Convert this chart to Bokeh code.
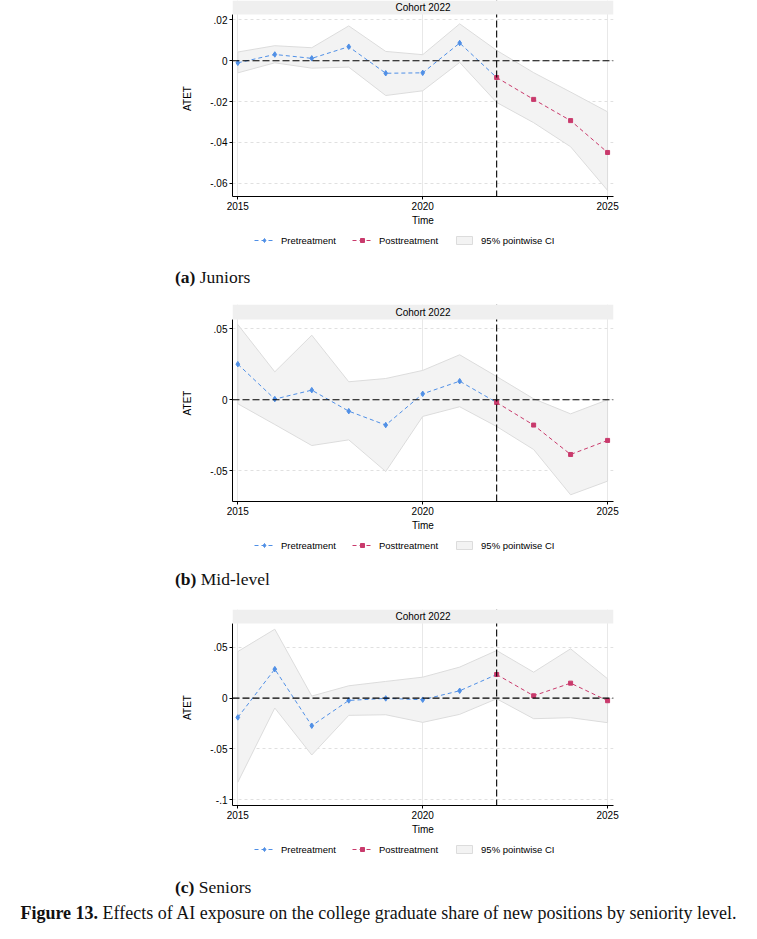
from bokeh.plotting import figure
from bokeh.models import (FixedTicker, CustomJSTickFormatter, Span, BoxAnnotation,
                          Label, Legend, LegendItem, Div, Range1d)
from bokeh.layouts import column
from bokeh.embed import file_html
from bokeh.resources import INLINE

# ---------------- data ----------------
years = [2015, 2016, 2017, 2018, 2019, 2020, 2021, 2022, 2023, 2024, 2025]
treat_year = 2022
cohort_label = "Cohort 2022"
x_ticks = [2015, 2020, 2025]

jun_atet = [-0.0010, 0.0031, 0.0012, 0.0069, -0.0061, -0.0059, 0.0087, -0.0082, -0.0189, -0.0293, -0.0449]
jun_upper = [0.0043, 0.0074, 0.0064, 0.0171, 0.0046, 0.0030, 0.0181, 0.0051, -0.0058, -0.0153, -0.0250]
jun_lower = [-0.0059, -0.0010, -0.0036, -0.0031, -0.0170, -0.0147, -0.0008, -0.0204, -0.0303, -0.0421, -0.0635]
jun_yticks = [-0.06, -0.04, -0.02, 0, 0.02]

mid_atet = [0.0251, 0.0005, 0.0068, -0.0080, -0.0178, 0.0042, 0.0131, -0.0019, -0.0178, -0.0385, -0.0286]
mid_upper = [0.0530, 0.0197, 0.0455, 0.0127, 0.0150, 0.0207, 0.0317, 0.0164, 0.0007, -0.0099, 0.0000]
mid_lower = [-0.0028, -0.0174, -0.0322, -0.0282, -0.0505, -0.0117, -0.0049, -0.0188, -0.0350, -0.0669, -0.0573]
mid_yticks = [-0.05, 0, 0.05]

sen_atet = [-0.0190, 0.0285, -0.0272, -0.0023, -0.0003, -0.0016, 0.0072, 0.0232, 0.0023, 0.0147, -0.0026]
sen_upper = [0.0458, 0.0678, 0.0020, 0.0121, 0.0164, 0.0206, 0.0305, 0.0468, 0.0255, 0.0485, 0.0190]
sen_lower = [-0.0828, -0.0098, -0.0560, -0.0170, -0.0164, -0.0239, -0.0160, -0.0007, -0.0203, -0.0193, -0.0242]
sen_yticks = [-0.1, -0.05, 0, 0.05]

legend_labels = ["Pretreatment", "Posttreatment", "95% pointwise CI"]
captions = [("(a)", "Juniors"), ("(b)", "Mid-level"), ("(c)", "Seniors")]
fig_caption_bold = "Figure 13."
fig_caption = "Effects of AI exposure on the college graduate share of new positions by seniority level."

# ---------------- style ----------------
BLUE = "#4f8fe6"
PINK = "#c93a6c"
BAND_FILL = "#f3f3f3"
BAND_LINE = "#dcdcdc"
SANS = "Liberation Sans"
SERIF = "Liberation Serif"
X_RANGE = (2014.856, 2025.16)
PLOT_PX = 182
AXIS_PX = 34
W = 757
FRAME_LEFT = 232
FRAME_W = 381


def series_band(p, upper, lower):
    return p.patch(years + years[::-1], upper + lower[::-1],
                   fill_color=BAND_FILL, line_color=BAND_LINE, line_width=1)


def series_lines(p, atet):
    i0 = years.index(treat_year)
    l_pre = p.line(years[:i0 + 1], atet[:i0 + 1], line_color=BLUE, line_dash="4 3", line_width=1)
    s_pre = p.scatter(years[:i0], atet[:i0], marker="diamond", size=5.5,
                      fill_color=BLUE, line_color=BLUE)
    l_post = p.line(years[i0:], atet[i0:], line_color=PINK, line_dash="4 3", line_width=1)
    s_post = p.scatter(years[i0:], atet[i0:], marker="square", size=4,
                       fill_color=PINK, line_color=PINK)
    return l_pre, s_pre, l_post, s_post


def make_panel(atet, upper, lower, yticks, ylo, yhi, strip_px):
    strip_data = strip_px * (yhi - ylo) / PLOT_PX
    height = PLOT_PX + strip_px + AXIS_PX
    p = figure(width=W, height=height, output_backend="svg", toolbar_location=None,
               x_range=Range1d(*X_RANGE), y_range=Range1d(ylo, yhi + strip_data),
               min_border_left=FRAME_LEFT, min_border_right=W - FRAME_LEFT - FRAME_W,
               min_border_top=0, min_border_bottom=AXIS_PX)
    p.outline_line_color = None
    p.background_fill_color = "white"
    p.border_fill_color = "white"

    # axes
    p.xaxis.ticker = FixedTicker(ticks=x_ticks)
    p.xaxis.axis_label = "Time"
    p.yaxis.ticker = FixedTicker(ticks=yticks)
    p.yaxis.axis_label = "ATET"
    p.yaxis.formatter = CustomJSTickFormatter(
        code="var s = String(parseFloat(tick.toFixed(4))); return s.replace('0.', '.');")
    p.yaxis.bounds = (ylo, yhi)
    for ax in (p.xaxis[0], p.yaxis[0]):
        ax.axis_line_color = "black"
        ax.axis_line_width = 1
        ax.major_tick_line_color = "black"
        ax.major_tick_out = 3
        ax.major_tick_in = 0
        ax.minor_tick_line_color = None
        ax.major_label_text_font = SANS
        ax.major_label_text_font_size = "10px"
        ax.major_label_text_color = "black"
        ax.axis_label_text_font = SANS
        ax.axis_label_text_font_size = "10px"
        ax.axis_label_text_font_style = "normal"
        ax.axis_label_text_color = "black"
    p.xaxis.major_label_standoff = 2
    p.xaxis.axis_label_standoff = 2
    p.yaxis.major_label_standoff = 2
    p.yaxis.axis_label_standoff = 14

    # grids
    p.xgrid.ticker = FixedTicker(ticks=x_ticks)
    p.xgrid.grid_line_color = "#e8e8e8"
    p.xgrid.grid_line_width = 1
    p.ygrid.ticker = FixedTicker(ticks=yticks)
    p.ygrid.grid_line_color = "#e0e0e0"
    p.ygrid.grid_line_dash = "3 3"

    series_band(p, upper, lower)

    # reference lines
    p.add_layout(Span(location=0, dimension="width", line_color="black",
                      line_dash="7 3", line_width=1.1))
    p.add_layout(Span(location=treat_year, dimension="height", line_color="black",
                      line_dash="7 3", line_width=1.1))

    series_lines(p, atet)

    # strip header
    p.add_layout(BoxAnnotation(bottom=yhi, fill_color="#efefef", fill_alpha=1.0,
                               line_color=None))
    p.add_layout(Label(x=(X_RANGE[0] + X_RANGE[1]) / 2, y=yhi + strip_data / 2,
                       text=cohort_label, text_align="center", text_baseline="middle",
                       text_font=SANS, text_font_size="10px", text_color="black"))
    return p


def make_legend(atet, upper, lower):
    # legend-only strip; its glyphs use the series data, which lie outside this strip's ranges
    lf = figure(width=W, height=16, output_backend="svg", toolbar_location=None,
                x_range=Range1d(0, 1), y_range=Range1d(0, 1),
                x_axis_type=None, y_axis_type=None, min_border=0)
    lf.outline_line_color = None
    lf.grid.visible = False
    band = series_band(lf, upper, lower)
    l_pre, s_pre, l_post, s_post = series_lines(lf, atet)
    legend = Legend(items=[LegendItem(label=legend_labels[0], renderers=[l_pre, s_pre]),
                           LegendItem(label=legend_labels[1], renderers=[l_post, s_post]),
                           LegendItem(label=legend_labels[2], renderers=[band])],
                    orientation="horizontal", location=(22, 0),
                    border_line_color=None, background_fill_alpha=0,
                    label_text_font=SANS, label_text_font_size="9.5px",
                    label_text_color="black",
                    glyph_width=20, glyph_height=10, label_standoff=7, spacing=16,
                    padding=2, margin=0, label_height=12)
    lf.add_layout(legend, "center")
    return lf


def caption_div(tag, txt, pad_top, height):
    html = ('<div style="padding-top:%dpx;padding-left:175px;font-family:\'%s\';'
            'font-size:17.5px;line-height:20px;color:#111;white-space:nowrap">'
            '<b>%s</b> %s</div>') % (pad_top, SERIF, tag, txt)
    return Div(text=html, width=W, height=height, margin=(0, 0, 0, 0))


fig1 = make_panel(jun_atet, jun_upper, jun_lower, jun_yticks, -0.06647, 0.02268, 14)
fig2 = make_panel(mid_atet, mid_upper, mid_lower, mid_yticks, -0.07162, 0.05655, 15)
fig3 = make_panel(sen_atet, sen_upper, sen_lower, sen_yticks, -0.1057, 0.0734, 14)
leg1 = make_legend(jun_atet, jun_upper, jun_lower)
leg2 = make_legend(mid_atet, mid_upper, mid_lower)
leg3 = make_legend(sen_atet, sen_upper, sen_lower)

div_a = caption_div(*captions[0], 21, 58)
div_b = caption_div(*captions[1], 18, 58)
div_c = caption_div(*captions[2], 22, 44)
div_fig = Div(text=('<div style="padding-top:4px;padding-left:16px;text-align:center;width:%dpx;font-family:\'%s\';'
                    'font-size:18px;line-height:20px;color:#111;white-space:nowrap">'
                    '<b>%s</b> %s</div>') % (W - 16, SERIF, fig_caption_bold, fig_caption),
              width=W, height=30, margin=(0, 0, 0, 0))

layout = column(fig1, leg1, div_a, fig2, leg2, div_b, fig3, leg3, div_c, div_fig, spacing=0)

open("out.html", "w").write(file_html(layout, INLINE))
